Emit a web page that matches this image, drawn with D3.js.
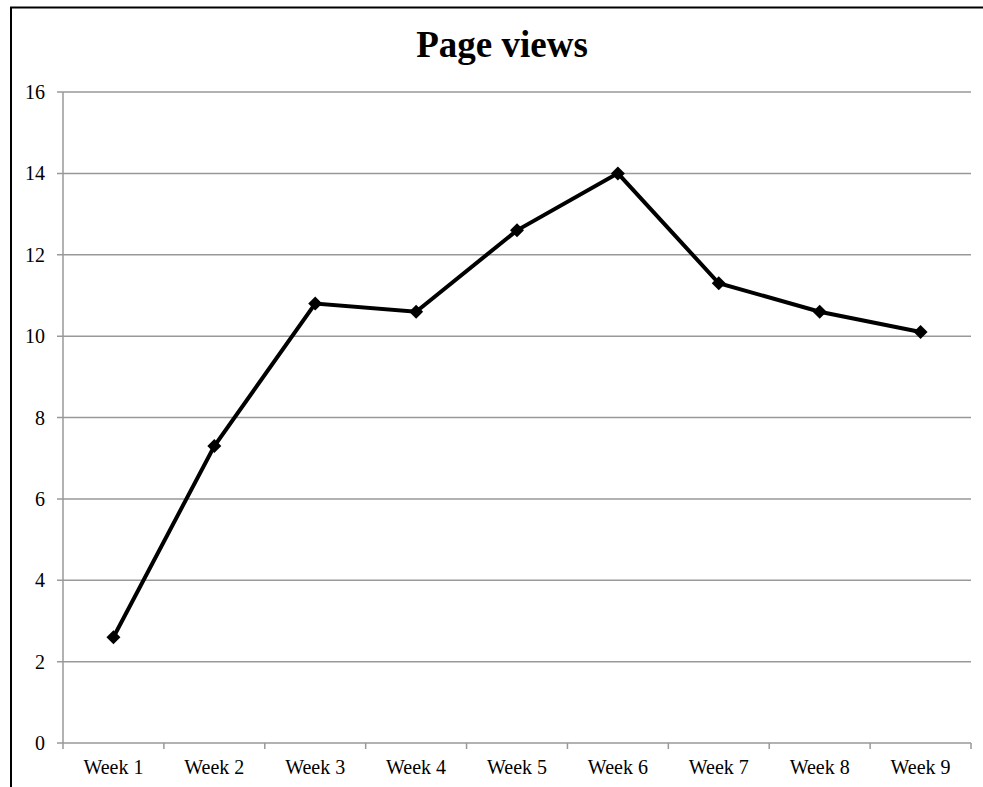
<!DOCTYPE html>
<html>
<head>
<meta charset="utf-8">
<script src="https://cdn.jsdelivr.net/npm/d3@7"></script>
<style>
  body { margin: 0; background: #fff; }
  svg { display: block; }
  text { font-family: "Liberation Serif", "Times New Roman", serif; fill: #000; }
</style>
</head>
<body>
<svg></svg>
<script>
const weeks = ["Week 1", "Week 2", "Week 3", "Week 4", "Week 5", "Week 6", "Week 7", "Week 8", "Week 9"];
const views = [2.6, 7.3, 10.8, 10.6, 12.6, 14.0, 11.3, 10.6, 10.1];
const yTicks = [0, 2, 4, 6, 8, 10, 12, 14, 16];

const W = 983, H = 787;
const margin = {top: 92, right: 12, bottom: 44, left: 63};
const width = W - margin.left - margin.right,
      height = H - margin.top - margin.bottom;

const svg = d3.select("svg").attr("width", W).attr("height", H);

// outer chart border (cropped on the right/bottom)
svg.append("rect")
  .attr("x", 11).attr("y", 7.5)
  .attr("width", W + 20).attr("height", H + 20)
  .attr("fill", "none").attr("stroke", "#000").attr("stroke-width", 2);

svg.append("text")
  .attr("x", 502).attr("y", 57)
  .attr("text-anchor", "middle")
  .style("font-size", "37px").style("font-weight", "bold")
  .text("Page views");

const g = svg.append("g")
  .attr("transform", "translate(" + margin.left + "," + margin.top + ")");

const x = d3.scaleBand().domain(weeks).range([0, width]);
const y = d3.scaleLinear().domain([0, 16]).range([height, 0]);

// gridlines
g.selectAll("line.grid")
  .data(yTicks)
  .join("line")
  .attr("class", "grid")
  .attr("x1", -6).attr("x2", width)
  .attr("y1", d => y(d)).attr("y2", d => y(d))
  .attr("stroke", "#999").attr("stroke-width", 1.5);

// y axis line
g.append("line")
  .attr("x1", 0).attr("x2", 0).attr("y1", 0).attr("y2", height)
  .attr("stroke", "#999").attr("stroke-width", 1.5);

g.selectAll("text.ylab")
  .data(yTicks)
  .join("text")
  .attr("class", "ylab")
  .attr("x", -18).attr("y", d => y(d))
  .attr("dy", "0.35em")
  .attr("text-anchor", "end")
  .style("font-size", "20px")
  .text(d => d);

// x category ticks
const xEdges = weeks.map(w => x(w)).concat([width]);
g.selectAll("line.xtick")
  .data(xEdges)
  .join("line")
  .attr("class", "xtick")
  .attr("x1", d => d).attr("x2", d => d)
  .attr("y1", height).attr("y2", height + 6)
  .attr("stroke", "#999").attr("stroke-width", 1.5);

g.selectAll("text.xlab")
  .data(weeks)
  .join("text")
  .attr("class", "xlab")
  .attr("x", d => x(d) + x.bandwidth() / 2)
  .attr("y", height + 31)
  .attr("text-anchor", "middle")
  .style("font-size", "20px")
  .text(d => d);

const line = d3.line()
  .x((d, i) => x(weeks[i]) + x.bandwidth() / 2)
  .y(d => y(d));

g.append("path")
  .datum(views)
  .attr("d", line)
  .attr("fill", "none")
  .attr("stroke", "#000")
  .attr("stroke-width", 4)
  .attr("stroke-linejoin", "miter");

g.selectAll("path.marker")
  .data(views)
  .join("path")
  .attr("class", "marker")
  .attr("d", "M0,-7L7,0L0,7L-7,0Z")
  .attr("transform", (d, i) => "translate(" + (x(weeks[i]) + x.bandwidth() / 2) + "," + y(d) + ")")
  .attr("fill", "#000");
</script>
</body>
</html>
